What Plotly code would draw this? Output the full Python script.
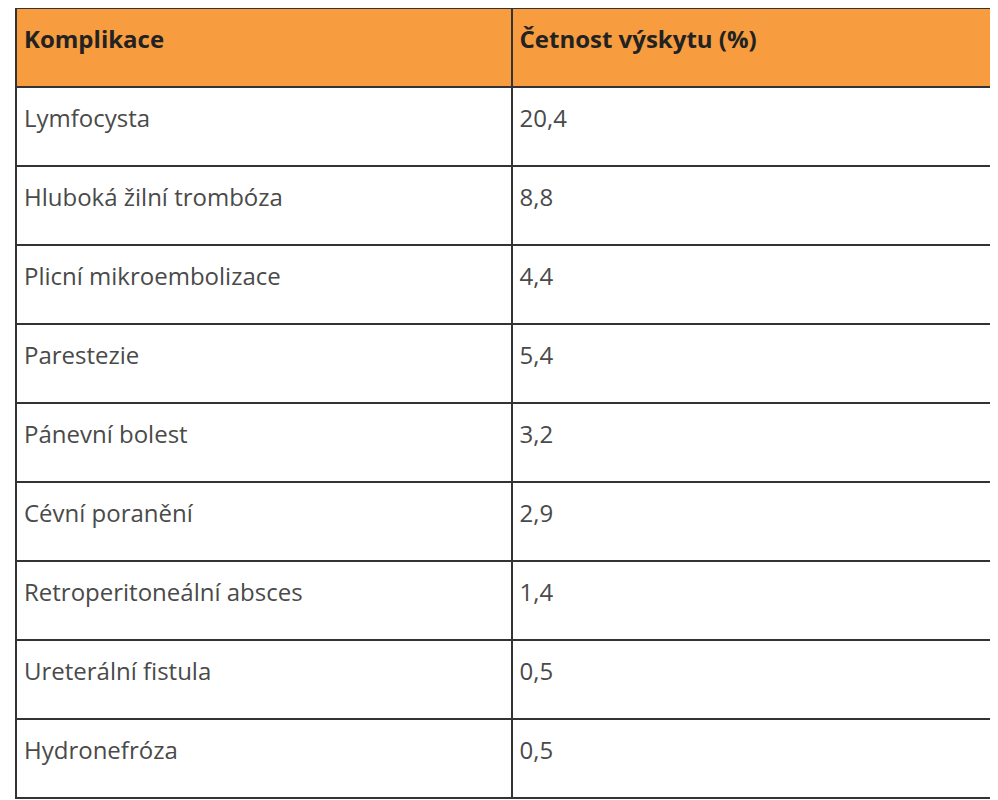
import plotly.graph_objects as go

headers = ["Komplikace", "Četnost výskytu (%)"]
complications = ["Lymfocysta", "Hluboká žilní trombóza", "Plicní mikroembolizace", "Parestezie",
                 "Pánevní bolest", "Cévní poranění", "Retroperitoneální absces",
                 "Ureterální fistula", "Hydronefróza"]
frequency = ["20,4", "8,8", "4,4", "5,4", "3,2", "2,9", "1,4", "0,5", "0,5"]

pad = "<span style='font-size:1px'> </span><br>"

fig = go.Figure(go.Table(
    columnwidth=[495, 480],
    header=dict(values=[pad + "<b>%s</b>" % h for h in headers],
                fill_color="#F79C3F", line=dict(color="#333333", width=2),
                align="left", height=79,
                font=dict(family="Open Sans", size=24, color="#222222")),
    cells=dict(values=[[pad + c for c in complications], [pad + f for f in frequency]],
               fill_color="white", line=dict(color="#333333", width=2),
               align="left", height=79,
               font=dict(family="Open Sans", size=24, color="#4a4a4a")),
))
fig.update_layout(width=998, height=800, margin=dict(l=8, r=14, t=0, b=0),
                  paper_bgcolor="white")
fig.write_html("out.html")
